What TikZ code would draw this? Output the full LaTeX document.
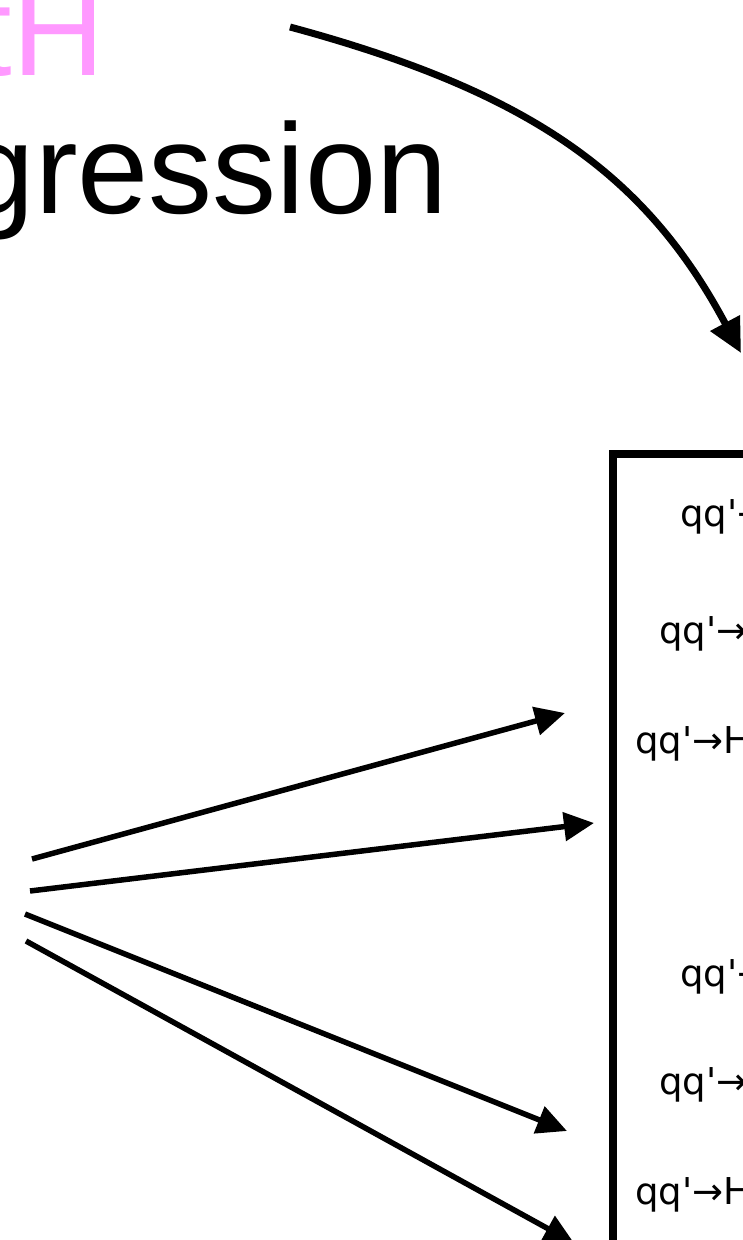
\documentclass[tikz,border=0pt]{standalone}
\usepackage{fontspec}
\setmainfont{Liberation Sans}
\newfontfamily\boxfont{DejaVu Sans}
\usetikzlibrary{arrows.meta}
\definecolor{titlepink}{RGB}{255,153,255}
\begin{document}
\begin{tikzpicture}[x=1pt,y=-1pt,
  title/.style={inner sep=0pt, font=\fontsize{128}{138}\selectfont},
  rowtext/.style={inner sep=0pt, anchor=base west, font=\boxfont\fontsize{37}{40}\selectfont},
  link/.style={line width=5.5pt, -{Triangle[length=30pt,width=28pt]}},
  bendlink/.style={line width=7pt, -{Triangle[length=34pt,width=32pt]}},
  panel/.style={draw, line width=8pt, anchor=north west, minimum width=400pt, minimum height=1000pt}]
\useasboundingbox (0,0) rectangle (743,1240);
\clip (0,0) rectangle (743,1240);
% title fragments
\node[title, text=titlepink, anchor=base east] (t1) at (105,75) {tH};
\node[title, anchor=base east] (t2) at (448,213) {gression};
% panel
\node[panel] (box) at (609,450) {};
\node[rowtext] (r1) at (680,526) {qq\textquotesingle→};
\node[rowtext] (r2) at (659,643) {qq\textquotesingle→};
\node[rowtext] (r3) at (635,753) {qq\textquotesingle→H};
\node[rowtext] (r4) at (680,986) {qq\textquotesingle→};
\node[rowtext] (r5) at (659,1094) {qq\textquotesingle→};
\node[rowtext] (r6) at (635,1204) {qq\textquotesingle→H};
% curved arrow
\coordinate (cs) at (290,27);
\coordinate (ce) at (741,353);
\draw[bendlink] (cs) .. controls (531,92) and (646,175) .. (ce);
% fan of arrows
\coordinate (a1s) at (32,859);
\coordinate (a1e) at (565,713);
\coordinate (a2s) at (30,891);
\coordinate (a2e) at (594,823);
\coordinate (a3s) at (25,914);
\coordinate (a3e) at (567,1131);
\coordinate (a4s) at (26,941);
\coordinate (a4e) at (574,1243);
\draw[link] (a1s) -- (a1e);
\draw[link] (a2s) -- (a2e);
\draw[link] (a3s) -- (a3e);
\draw[link] (a4s) -- (a4e);
\end{tikzpicture}
\end{document}
